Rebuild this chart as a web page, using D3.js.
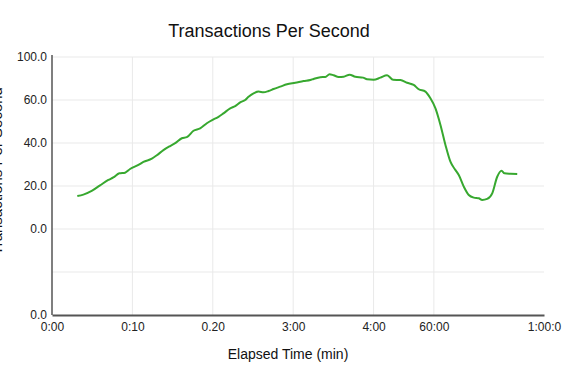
<!DOCTYPE html>
<html>
<head>
<meta charset="utf-8">
<script src="https://cdn.jsdelivr.net/npm/d3@7/dist/d3.min.js"></script>
<style>
  html, body { margin: 0; padding: 0; background: #fff; }
  svg { display: block; font-family: "Liberation Sans", Arial, sans-serif; }
</style>
</head>
<body>
<svg id="chart" width="576" height="380"></svg>
<script>
const elapsed = [3.15,3.9,4.94,5.98,7.01,7.63,8.38,9.09,9.71,10.75,11.37,12.42,13.04,13.86,14.69,15.32,16.15,16.77,17.6,18.43,19.26,20.09,20.71,21.33,22.17,22.79,23.41,24.03,24.45,25.07,25.69,26.31,26.94,27.56,28.39,29.23,30.26,31.3,32.13,32.54,33.37,34.0,34.53,35.03,35.65,36.28,37.02,37.73,38.69,39.19,40.01,40.85,41.68,42.43,43.34,44.17,44.99,45.62,46.45,47.07,47.7,48.32,48.94,49.56,50.19,50.6,51.22,51.84,52.47,53.09,53.51,54.13,54.76,55.38,55.92,56.29,57.04,57.87];
const tps = [15.3,16.0,17.7,20.3,22.8,24.0,25.9,26.2,27.9,29.8,31.2,32.7,34.3,36.7,38.6,39.9,42.2,42.7,45.7,46.8,49.2,51.0,52.2,53.8,56.1,57.2,58.9,60.0,61.5,63.1,63.9,63.6,64.2,65.1,66.2,67.3,68.0,68.8,69.3,69.8,70.6,70.7,72.0,71.5,70.7,70.8,71.8,70.8,70.4,69.6,69.4,70.4,71.5,69.4,69.3,68.0,67.0,65.0,63.9,60.8,56.1,48.4,39.1,31.3,27.4,25.1,19.7,15.8,14.6,14.3,13.5,14.0,16.6,24.3,27.1,25.9,25.7,25.6];

const xTickValues = [0,10,20,30,40,47.5,61.2];
const xTickLabels = ["0:00","0:10","0.20","3:00","4:00","60:00","1:00:0"];
const yTickValues = [-40,-20,0,20,40,60,80];
const yTickLabels = ["0.0","","0.0","20.0","40.0","60.0","100.0"];

const chartTitle = "Transactions Per Second";
const xTitle = "Elapsed Time (min)";
const yTitle = "Transactions Per Second";

const svg = d3.select("#chart");
const m = {left: 52, right: 544, top: 57, bottom: 315};

const x = d3.scaleLinear().domain([0, 61.2]).range([m.left, m.right]);
const y = d3.scaleLinear().domain([-40, 80]).range([m.bottom, m.top]);

// grid
svg.append("g").selectAll("line.h").data(yTickValues.slice(1)).join("line")
  .attr("x1", m.left).attr("x2", m.right)
  .attr("y1", d => y(d)).attr("y2", d => y(d))
  .attr("stroke", "#e9e9e9").attr("stroke-width", 1);
svg.append("g").selectAll("line.v").data(xTickValues.slice(1, -1)).join("line")
  .attr("x1", d => x(d)).attr("x2", d => x(d))
  .attr("y1", m.top).attr("y2", m.bottom)
  .attr("stroke", "#e9e9e9").attr("stroke-width", 1);

// axes
const xAxis = svg.append("g").attr("transform", `translate(0,${m.bottom})`)
  .call(d3.axisBottom(x).tickValues(xTickValues)
    .tickFormat((d, i) => xTickLabels[i]).tickSize(0).tickPadding(7));
xAxis.select(".domain").attr("stroke", "#555").attr("stroke-width", 2);
xAxis.selectAll("text").attr("font-size", 12).attr("fill", "#222")
  .attr("font-family", "Liberation Sans, Arial, sans-serif");

const yAxis = svg.append("g").attr("transform", `translate(${m.left},0)`)
  .call(d3.axisLeft(y).tickValues(yTickValues)
    .tickFormat((d, i) => yTickLabels[i]).tickSize(0).tickPadding(5));
yAxis.select(".domain").attr("stroke", "#555").attr("stroke-width", 1.5)
  .attr("d", `M0,${m.top - 2}V${m.bottom}`);
yAxis.selectAll("text").attr("font-size", 12).attr("fill", "#222")
  .attr("font-family", "Liberation Sans, Arial, sans-serif");

// line
const pts = elapsed.map((e, i) => [e, tps[i]]);
svg.append("path").datum(pts)
  .attr("fill", "none").attr("stroke", "#37a82f").attr("stroke-width", 2)
  .attr("stroke-linejoin", "round")
  .attr("d", d3.line().x(d => x(d[0])).y(d => y(d[1])).curve(d3.curveMonotoneX));

// titles
svg.append("text").attr("x", 269).attr("y", 37).attr("text-anchor", "middle")
  .attr("font-size", 18).attr("fill", "#111").text(chartTitle);
svg.append("text").attr("x", 288).attr("y", 359).attr("text-anchor", "middle")
  .attr("font-size", 14).attr("fill", "#111").text(xTitle);
svg.append("text").attr("transform", "translate(2,171) rotate(-90)")
  .attr("text-anchor", "middle").attr("font-size", 15).attr("fill", "#111").text(yTitle);
</script>
</body>
</html>
